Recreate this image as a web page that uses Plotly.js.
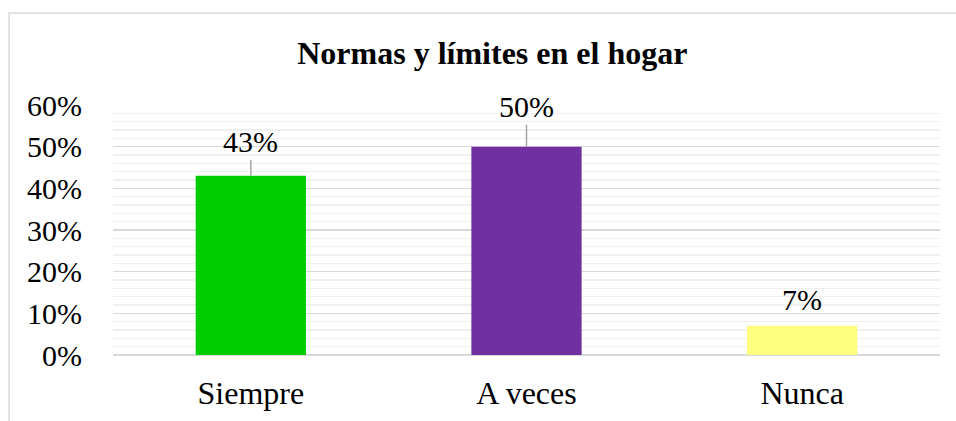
<!DOCTYPE html>
<html>
<head>
<meta charset="utf-8">
<script src="https://cdn.plot.ly/plotly-3.0.1.min.js"></script>
<style>html,body{margin:0;padding:0;background:#fff;}#chart{width:956px;height:421px;}</style>
</head>
<body>
<div id="chart"></div>
<script>
const categories = ["Siempre", "A veces", "Nunca"];
const values = [0.43, 0.50, 0.07];
const labels = ["43%", "50%", "7%"];
const barColors = ["#00CC00", "#7030A0", "#FFFF80"];
const leaderOffsets = [-34, -40, -26];
const showLeader = [true, true, false];

const font = "Liberation Serif";

const annotations = categories.map((c, i) => ({
  x: c, y: values[i], xref: 'x', yref: 'y',
  text: labels[i],
  showarrow: true,
  arrowhead: 0, arrowwidth: 1.5, standoff: 0,
  arrowcolor: showLeader[i] ? '#a6a6a6' : 'rgba(0,0,0,0)',
  ax: 0, ay: leaderOffsets[i],
  font: {family: font, size: 30, color: '#000'}
}));

const data = [{
  type: 'bar', x: categories, y: values,
  marker: {color: barColors},
  hoverinfo: 'skip'
}];

const layout = {
  width: 956, height: 421,
  font: {family: font, color: '#000'},
  margin: {l: 113, r: 16, t: 105, b: 66},
  paper_bgcolor: '#fff', plot_bgcolor: '#fff',
  bargap: 0.6,
  showlegend: false,
  title: {text: '<b>Normas y límites en el hogar</b>', x: 0.515, xanchor: 'center', y: 0.875, yanchor: 'middle',
          font: {family: font, size: 32, color: '#000'}},
  xaxis: {showgrid: false, showline: false, zeroline: false, ticks: '',
          tickfont: {family: font, size: 32, color: '#000'}, ticklabelstandoff: 16},
  yaxis: {range: [0, 0.6], dtick: 0.1, tickformat: '.0%',
          showgrid: true, gridcolor: '#d9d9d9', gridwidth: 1.5,
          zeroline: true, zerolinecolor: '#d9d9d9', zerolinewidth: 1.5,
          showline: false, ticks: '', ticklabelstandoff: 30,
          minor: {dtick: 0.02, showgrid: true, gridcolor: '#f0f0f0', gridwidth: 1.5},
          tickfont: {family: font, size: 30, color: '#000'}},
  annotations: annotations,
  shapes: [{type: 'rect', xref: 'paper', yref: 'paper',
            x0: (9 - 113) / 827, x1: (970 - 113) / 827,
            y0: (355 - 440) / 250, y1: (355 - 13) / 250,
            line: {color: '#d9d9d9', width: 1.5}, fillcolor: 'rgba(0,0,0,0)', layer: 'below'}]
};

Plotly.newPlot('chart', data, layout, {displayModeBar: false, staticPlot: true});
</script>
</body>
</html>
